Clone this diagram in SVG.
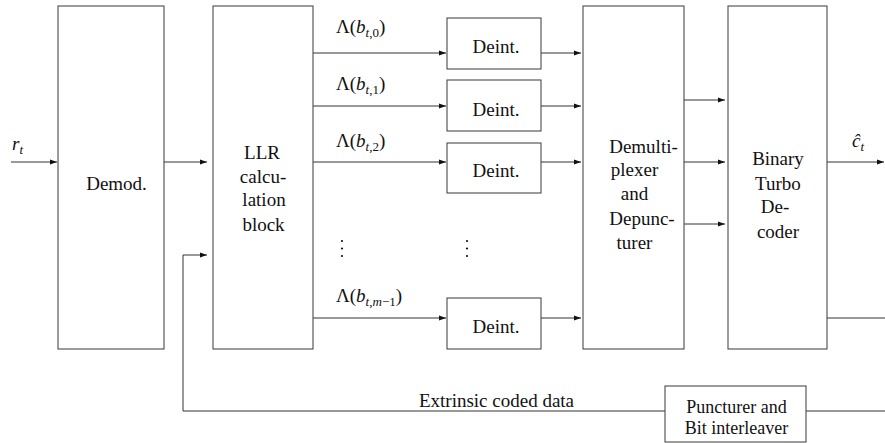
<svg xmlns="http://www.w3.org/2000/svg" width="885" height="443" viewBox="0 0 885 443">
<style>
.box{fill:#fff;stroke:#4a4a4a;stroke-width:1.1}
.ln{fill:none;stroke:#333;stroke-width:1}
text{font-family:'Liberation Serif','DejaVu Serif',serif;font-size:19px;fill:#111}
.c{text-anchor:middle}
.i{font-style:italic}
.s{font-size:13px}
.p{font-size:18px}
</style>
<defs>
<marker id="ah" markerUnits="userSpaceOnUse" markerWidth="8" markerHeight="6" refX="7" refY="3" orient="auto">
<path d="M0,0.5 L7,3 L0,5.5 z" fill="#111"/>
</marker>
</defs>
<rect width="885" height="443" fill="#fff"/>
<g id="connectors">
<path class="ln" d="M11,162 H57" marker-end="url(#ah)"/>
<path class="ln" d="M164,162 H207" marker-end="url(#ah)"/>
<path class="ln" d="M665,411 H183 V255 H207" marker-end="url(#ah)"/>
<path class="ln" d="M313,53 H446" marker-end="url(#ah)"/>
<path class="ln" d="M313,106 H446" marker-end="url(#ah)"/>
<path class="ln" d="M313,162 H446" marker-end="url(#ah)"/>
<path class="ln" d="M313,318 H446" marker-end="url(#ah)"/>
<path class="ln" d="M541,53 H581" marker-end="url(#ah)"/>
<path class="ln" d="M541,106 H581" marker-end="url(#ah)"/>
<path class="ln" d="M541,162 H581" marker-end="url(#ah)"/>
<path class="ln" d="M541,318 H581" marker-end="url(#ah)"/>
<path class="ln" d="M684,100 H725" marker-end="url(#ah)"/>
<path class="ln" d="M684,162 H725" marker-end="url(#ah)"/>
<path class="ln" d="M684,224 H725" marker-end="url(#ah)"/>
<path class="ln" d="M827,162 H884" marker-end="url(#ah)"/>
<path class="ln" d="M827,318 H885"/>
<path class="ln" d="M806,411 H885"/>
</g>
<g id="labels">
<text class="i" x="12" y="150">r<tspan class="s" dy="4">t</tspan></text>
<text x="336" y="33">Λ(<tspan class="i">b</tspan><tspan class="s" dy="4"><tspan class="i">t</tspan>,0</tspan><tspan dy="-4">)</tspan></text>
<text x="336" y="90">Λ(<tspan class="i">b</tspan><tspan class="s" dy="4"><tspan class="i">t</tspan>,1</tspan><tspan dy="-4">)</tspan></text>
<text x="336" y="147">Λ(<tspan class="i">b</tspan><tspan class="s" dy="4"><tspan class="i">t</tspan>,2</tspan><tspan dy="-4">)</tspan></text>
<text x="336" y="302">Λ(<tspan class="i">b</tspan><tspan class="s" dy="4"><tspan class="i">t</tspan>,<tspan class="i">m</tspan>−1</tspan><tspan dy="-4">)</tspan></text>
<text class="i" x="852" y="147">ĉ<tspan class="s" dy="4">t</tspan></text>
<text class="c" x="496.5" y="407">Extrinsic coded data</text>
<g fill="#111">
<circle cx="342" cy="241" r="1.1"/><circle cx="342" cy="248.5" r="1.1"/><circle cx="342" cy="256" r="1.1"/>
<circle cx="467" cy="241" r="1.1"/><circle cx="467" cy="248.5" r="1.1"/><circle cx="467" cy="256" r="1.1"/>
</g>
</g>
<g id="demod">
<rect class="box" x="58" y="6" width="106" height="343"/>
<text class="c" x="116.5" y="190">Demod.</text>
</g>
<g id="llr">
<rect class="box" x="213" y="6" width="100" height="343"/>
<text class="c" x="262" y="159">LLR</text>
<text class="c" x="263" y="183">calcu-</text>
<text class="c" x="264" y="206">lation</text>
<text class="c" x="263.5" y="231">block</text>
</g>
<g id="deint0">
<rect class="box" x="447" y="18" width="94" height="51"/>
<text class="c" x="496" y="53">Deint.</text>
</g>
<g id="deint1">
<rect class="box" x="447" y="80" width="94" height="51"/>
<text class="c" x="496" y="116">Deint.</text>
</g>
<g id="deint2">
<rect class="box" x="447" y="143" width="94" height="50"/>
<text class="c" x="496" y="177">Deint.</text>
</g>
<g id="deint3">
<rect class="box" x="447" y="298" width="94" height="51"/>
<text class="c" x="496" y="333">Deint.</text>
</g>
<g id="demux">
<rect class="box" x="583" y="6" width="101" height="343"/>
<text class="c" x="643.5" y="153">Demulti-</text>
<text class="c" x="634.5" y="176">plexer</text>
<text class="c" x="634.5" y="200">and</text>
<text class="c" x="642" y="225">Depunc-</text>
<text class="c" x="634.5" y="249">turer</text>
</g>
<g id="turbo">
<rect class="box" x="728" y="6" width="99" height="343"/>
<text class="c" x="778" y="164.5">Binary</text>
<text class="c" x="778" y="190">Turbo</text>
<text class="c" x="775" y="213">De-</text>
<text class="c" x="778" y="238">coder</text>
</g>
<g id="puncturer">
<rect class="box" x="665" y="386" width="141" height="56"/>
<text class="c p" x="736.5" y="413">Puncturer and</text>
<text class="c p" x="736.5" y="434">Bit interleaver</text>
</g>
</svg>
